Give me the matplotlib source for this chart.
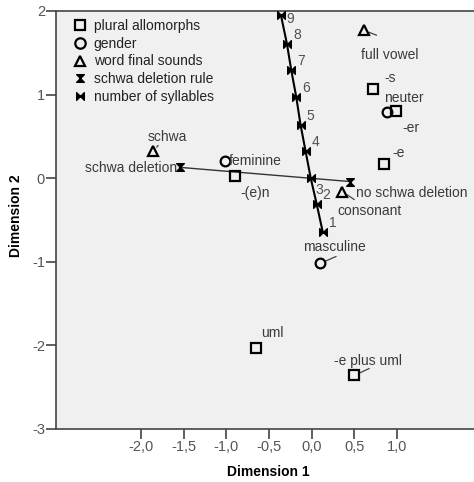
import matplotlib.pyplot as plt
from matplotlib.path import Path
from matplotlib.lines import Line2D

plt.rcParams['font.family'] = ['Liberation Sans', 'DejaVu Sans']

# 複數形
plural_labels = ['-(e)n', '-s', '-er', '-e', 'uml', '-e plus uml']
plural_x = [-0.90, 0.72, 0.99, 0.85, -0.65, 0.50]
plural_y = [0.03, 1.07, 0.80, 0.17, -2.03, -2.36]

# 性別
gender_labels = ['feminine', 'neuter', 'masculine']
gender_x = [-1.02, 0.88, 0.10]
gender_y = [0.21, 0.79, -1.02]

# 詞尾音
sound_labels = ['schwa', 'full vowel', 'consonant']
sound_x = [-1.86, 0.61, 0.36]
sound_y = [0.32, 1.77, -0.16]

# schwa 刪除規則
rule_labels = ['schwa deletion', 'no schwa deletion']
rule_x = [-1.55, 0.45]
rule_y = [0.13, -0.04]

# 音節數
syll_labels = ['1', '2', '3', '4', '5', '6', '7', '8', '9']
syll_x = [0.13, 0.06, -0.01, -0.07, -0.13, -0.18, -0.24, -0.29, -0.36]
syll_y = [-0.64, -0.31, 0.00, 0.32, 0.64, 0.97, 1.30, 1.61, 1.95]

x_ticks = [-2.0, -1.5, -1.0, -0.5, 0.0, 0.5, 1.0]
y_ticks = [2, 1, 0, -1, -2, -3]

# 標籤位移 (像素)
plural_off = [(5, -17), (11, 11), (6, -17), (8, 11), (5, 15), (-20, 14)]
gender_off = [(4, 0), (-3, 14), (-17, 16)]
sound_off = [(-5, 14), (-3, -25), (-5, -19)]
rule_off = [(-2, -1), (6, -11)]
syll_off = [(6, 9), (6, 9), (5, -12), (6, 9), (6, 9), (6, 9), (6, 9), (6, 9), (5, -4)]

hourglass = Path([(-1, 1), (1, 1), (-1, -1), (1, -1), (-1, 1)],
                 [Path.MOVETO, Path.LINETO, Path.LINETO, Path.LINETO, Path.CLOSEPOLY])
bowtie = Path([(-1, 1), (-1, -1), (1, 1), (1, -1), (-1, 1)],
              [Path.MOVETO, Path.LINETO, Path.LINETO, Path.LINETO, Path.CLOSEPOLY])

fig = plt.figure(figsize=(4.74, 4.82), dpi=100)
ax = fig.add_axes([56 / 474, 53 / 482, 426 / 474, 418 / 482])
ax.set_facecolor('#f0f0f0')

# 線
ax.plot(rule_x, rule_y, color='#333333', lw=1.0, zorder=2)
ax.plot(syll_x, syll_y, color='black', lw=1.5, zorder=2)

mk = dict(linestyle='none', color='black', mfc='none', mew=1.6)
ax.plot(plural_x, plural_y, marker='s', ms=7, zorder=3, **mk)
ax.plot(gender_x, gender_y, marker='o', ms=7, zorder=3, **mk)
ax.plot(sound_x, sound_y, marker='^', ms=6.5, zorder=3, **mk)
ax.plot(rule_x, rule_y, marker=hourglass, ms=5.5, linestyle='none', color='black', zorder=4)
ax.plot(syll_x, syll_y, marker=bowtie, ms=5.5, linestyle='none', color='black', zorder=4)

tc = '#3a3a3a'
def put(labels, xs, ys, offs, color=tc, ha='left'):
    for lab, x, y, (dx, dy) in zip(labels, xs, ys, offs):
        ax.annotate(lab, (x, y), xytext=(dx, dy), textcoords='offset pixels',
                    ha=ha, va='center', fontsize=10, color=color, zorder=5)

put(plural_labels, plural_x, plural_y, plural_off)
put(gender_labels, gender_x, gender_y, gender_off)
put(sound_labels, sound_x, sound_y, sound_off)
put(rule_labels[:1], rule_x[:1], rule_y[:1], rule_off[:1], ha='right')
put(rule_labels[1:], rule_x[1:], rule_y[1:], rule_off[1:])
put(syll_labels, syll_x, syll_y, syll_off, color='#505050')

# 引線
leaders = [(sound_x[0], sound_y[0], 5, 6), (sound_x[1], sound_y[1], 13, -5),
           (sound_x[2], sound_y[2], 12, -8), (gender_x[2], gender_y[2], 16, 7),
           (plural_x[5], plural_y[5], 15, 7)]
for x, y, dx, dy in leaders:
    ax.annotate('', (x, y), xytext=(dx, dy), textcoords='offset pixels',
                arrowprops=dict(arrowstyle='-', color='#444444', lw=0.9,
                                shrinkA=0, shrinkB=4), zorder=2)

ax.set_xlim(-3, 2)
ax.set_ylim(-3, 2)
ax.set_xticks(x_ticks)
ax.set_xticklabels([('%.1f' % v).replace('.', ',') for v in x_ticks])
ax.set_yticks(y_ticks)
ax.set_yticklabels([str(v) for v in y_ticks])
ax.tick_params(direction='out', length=7, width=1.2, color='#444444',
               labelcolor='#555555', labelsize=10.5, pad=1)
for s in ax.spines.values():
    s.set_color('#444444')
    s.set_linewidth(1.2)

fig.text(268 / 474, 1 - 472 / 482, 'Dimension 1', ha='center', va='center',
         fontsize=10, fontweight='bold')
fig.text(16 / 474, 1 - 216 / 482, 'Dimension 2', ha='center', va='center',
         fontsize=10, fontweight='bold', rotation=90)

handles = [
    Line2D([], [], marker='s', ms=7.5, **mk),
    Line2D([], [], marker='o', ms=7.5, **mk),
    Line2D([], [], marker='^', ms=7, **mk),
    Line2D([], [], marker=hourglass, ms=5.5, linestyle='none', color='black'),
    Line2D([], [], marker=bowtie, ms=5.5, linestyle='none', color='black'),
]
names = ['plural allomorphs', 'gender', 'word final sounds', 'schwa deletion rule',
         'number of syllables']
leg = ax.legend(handles, names, loc='upper left', bbox_to_anchor=(0.028, 0.995),
                frameon=False, handlelength=0.9, handletextpad=0.55,
                labelspacing=0.28, borderaxespad=0, fontsize=10)
for t in leg.get_texts():
    t.set_color('#222222')

fig.savefig('out.png', dpi=100)
